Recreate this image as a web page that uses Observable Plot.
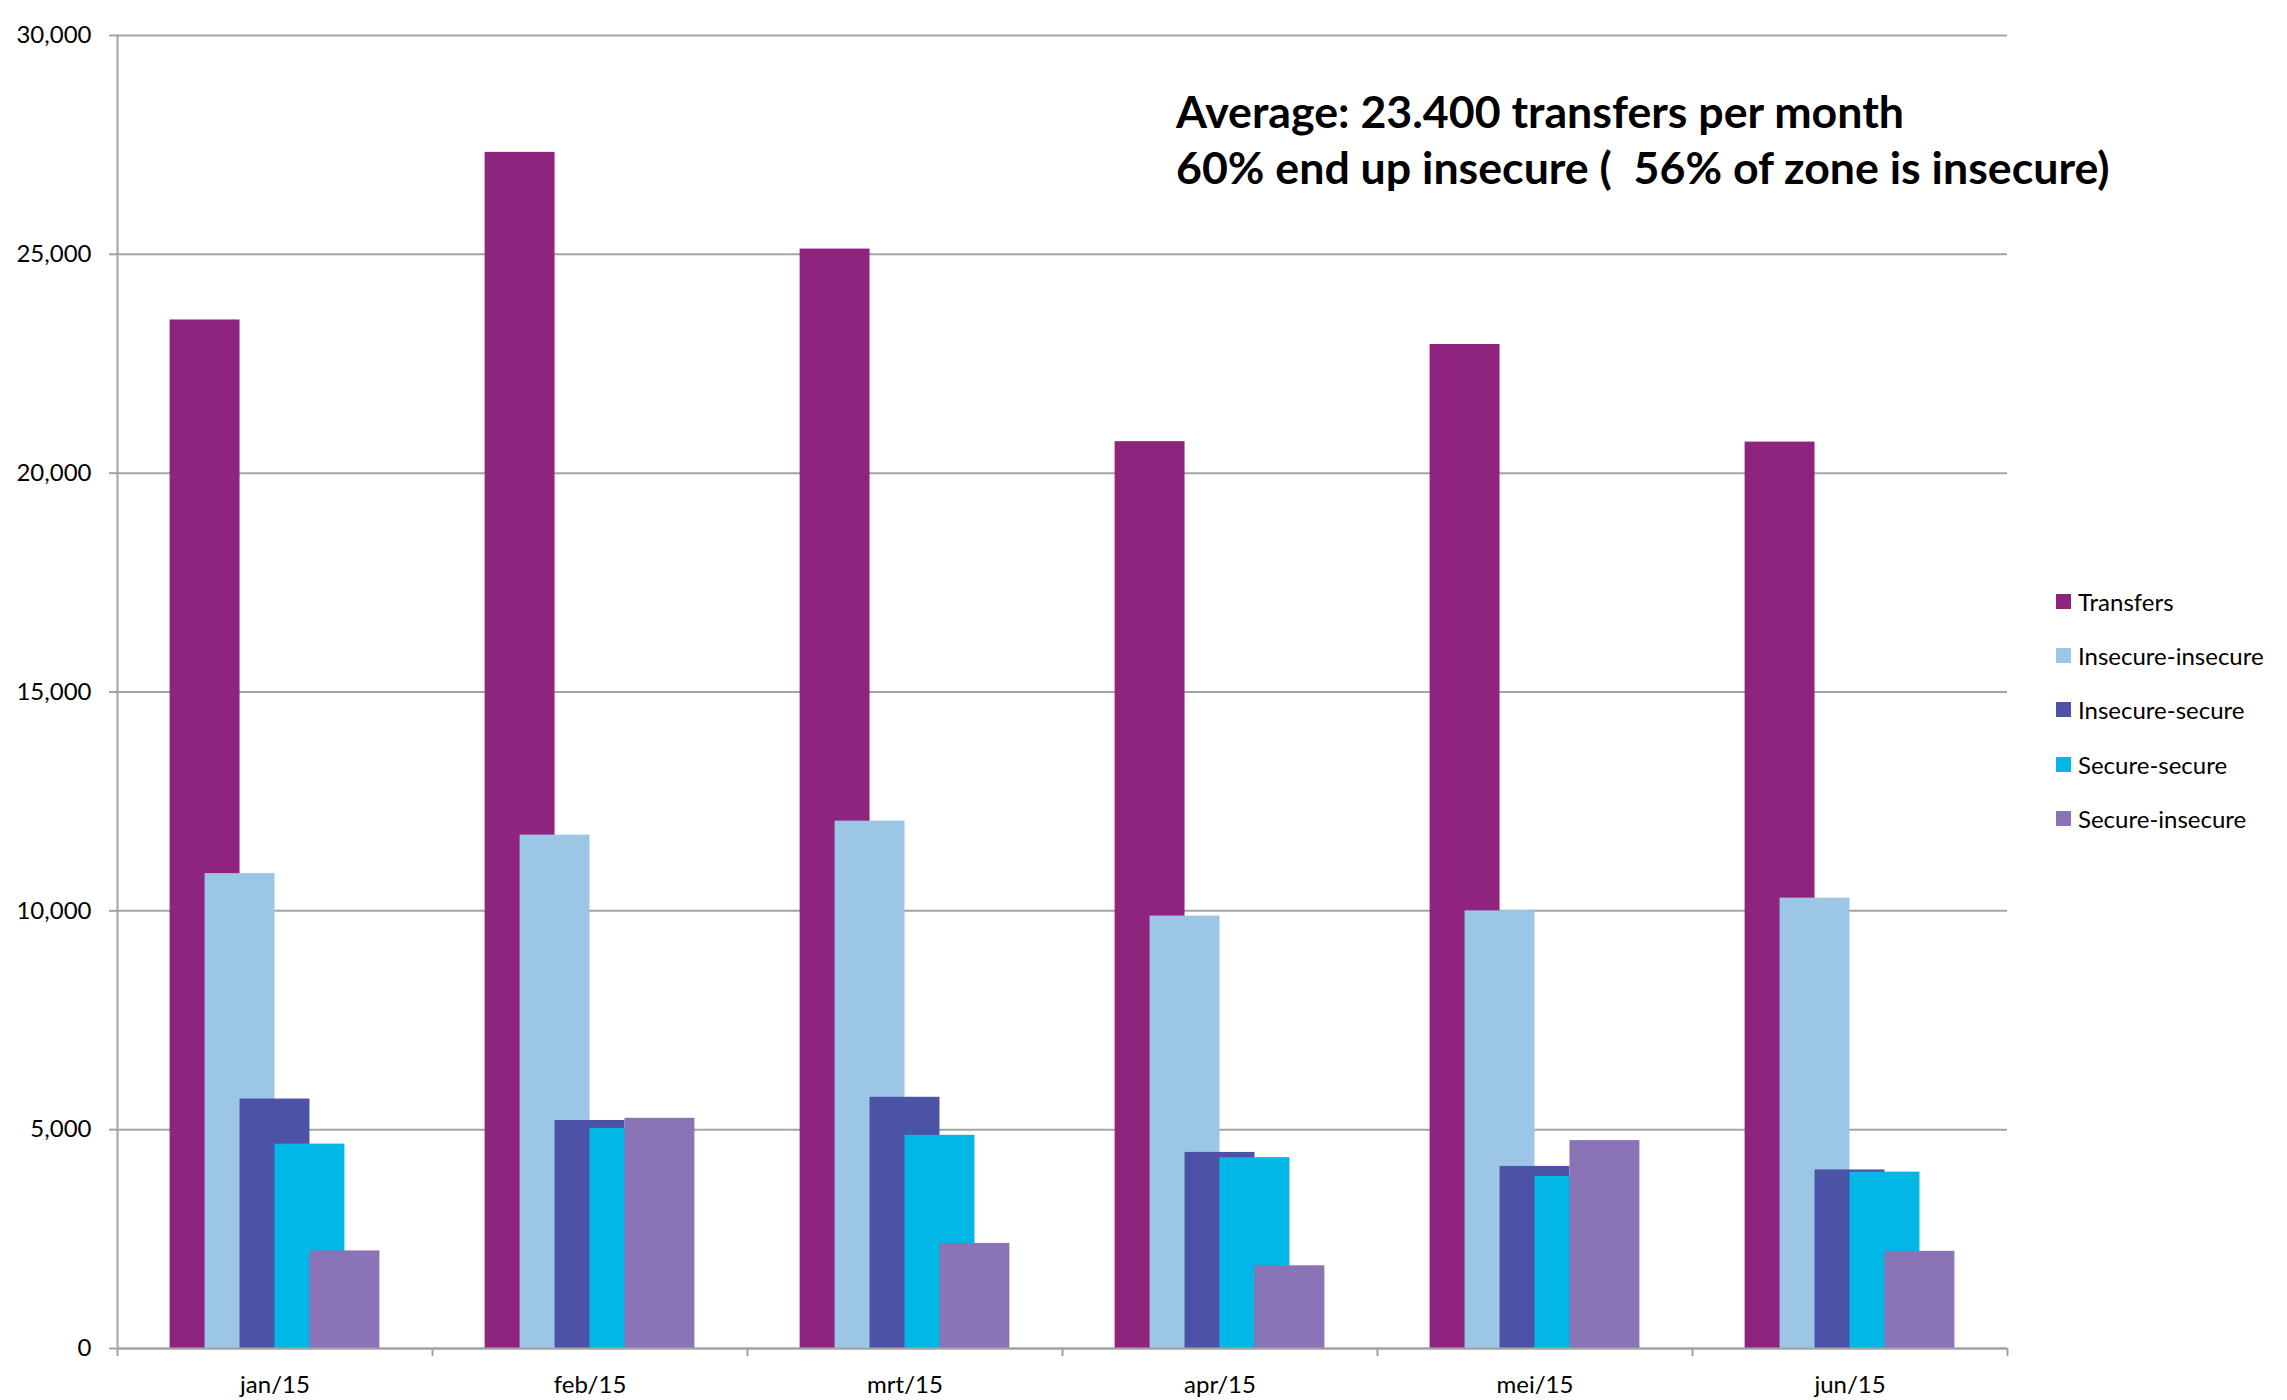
<!DOCTYPE html>
<html>
<head>
<meta charset="utf-8">
<script src="https://cdn.jsdelivr.net/npm/d3@7"></script>
<script src="https://cdn.jsdelivr.net/npm/@observablehq/plot@0.6"></script>
<style>
  html, body { margin: 0; padding: 0; background: #fff; }
  #wrap { position: relative; width: 2287px; height: 1400px; font-family: Lato, "Open Sans", sans-serif; color: #000; }
  #chart svg { display: block; }
  #note { position: absolute; left: 1176px; top: 83px; font-weight: 700; font-size: 44.7px; line-height: 56px; white-space: pre; }
  #legend { position: absolute; left: 2056px; top: 574px; font-size: 24px; }
  .row { display: flex; align-items: center; height: 54.3px; }
  .sw { width: 15px; height: 15px; margin-right: 7px; flex: none; }
</style>
</head>
<body>
<div id="wrap">
  <div id="chart"></div>
  <div id="note"></div>
  <div id="legend"></div>
</div>
<script>
const months = ["jan/15", "feb/15", "mrt/15", "apr/15", "mei/15", "jun/15"];
const seriesNames = ["Transfers", "Insecure-insecure", "Insecure-secure", "Secure-secure", "Secure-insecure"];
const seriesColors = ["#8E247D", "#9CC6E6", "#4C53A7", "#00B7E6", "#8B73B8"];
const transfers = [23500, 27330, 25120, 20720, 22940, 20710];
const insecureInsecure = [10850, 11730, 12050, 9880, 10000, 10290];
const insecureSecure = [5700, 5210, 5740, 4480, 4160, 4080];
const secureSecure = [4670, 5030, 4870, 4360, 3930, 4030];
const secureInsecure = [2230, 5260, 2400, 1890, 4750, 2220];
const yTicks = [0, 5000, 10000, 15000, 20000, 25000, 30000];
const noteLines = ["Average: 23.400 transfers per month", "60% end up insecure (  56% of zone is insecure)"];

const seriesValues = [transfers, insecureInsecure, insecureSecure, secureSecure, secureInsecure];

const W = 2287, H = 1400;
const mL = 117, mR = 280, mT = 35, mB = 52;
const bw = (W - mL - mR) / months.length;   // band width in px
const barW = bw * 0.222;                     // each bar's width
const step = barW / 2;                       // overlap offset
const gridColor = "#a3a3a3";

const barMarks = seriesNames.map((name, i) => {
  const rows = months.map((m, j) => ({month: m, value: seriesValues[i][j], series: name}));
  const off = (i - 2) * step;
  const side = (bw - barW) / 2;
  return Plot.barY(rows, {
    x: "month", y: "value", fill: seriesColors[i],
    insetLeft: side + off, insetRight: side - off
  });
});

const chart = Plot.plot({
  width: W, height: H,
  marginLeft: mL, marginRight: mR, marginTop: mT, marginBottom: mB,
  style: {fontFamily: "Lato, 'Open Sans', sans-serif", fontSize: "24px", color: "#000", background: "#fff"},
  x: {domain: months, padding: 0, label: null},
  y: {domain: [0, 30000], label: null},
  marks: [
    Plot.gridY(yTicks, {stroke: gridColor, strokeOpacity: 1, strokeWidth: 2}),
    Plot.axisY({ticks: yTicks, tickFormat: d3.format(","), tickSize: 8, tickPadding: 18, stroke: gridColor, strokeWidth: 2, strokeOpacity: 1, fontSize: 24, label: null}),
    Plot.axisX({tickSize: 0, tickPadding: 27, fontSize: 24, label: null}),
    Plot.frame({anchor: "left", stroke: gridColor, strokeWidth: 2}),
    Plot.ruleX(months, {x: d => d, y1: 0, y2: 0, insetBottom: -8, dx: -bw / 2, stroke: gridColor, strokeWidth: 2}),
    Plot.ruleX(months.slice(-1), {x: d => d, y1: 0, y2: 0, insetBottom: -8, dx: bw / 2, stroke: gridColor, strokeWidth: 2}),
    ...barMarks,
    Plot.ruleY([0], {stroke: gridColor, strokeWidth: 2})
  ]
});
document.getElementById("chart").appendChild(chart);

document.getElementById("note").textContent = noteLines.join("\n");

const legend = document.getElementById("legend");
seriesNames.forEach((name, i) => {
  const row = document.createElement("div");
  row.className = "row";
  const sw = document.createElement("div");
  sw.className = "sw";
  sw.style.background = seriesColors[i];
  const t = document.createElement("span");
  t.textContent = name;
  row.appendChild(sw);
  row.appendChild(t);
  legend.appendChild(row);
});
</script>
</body>
</html>
